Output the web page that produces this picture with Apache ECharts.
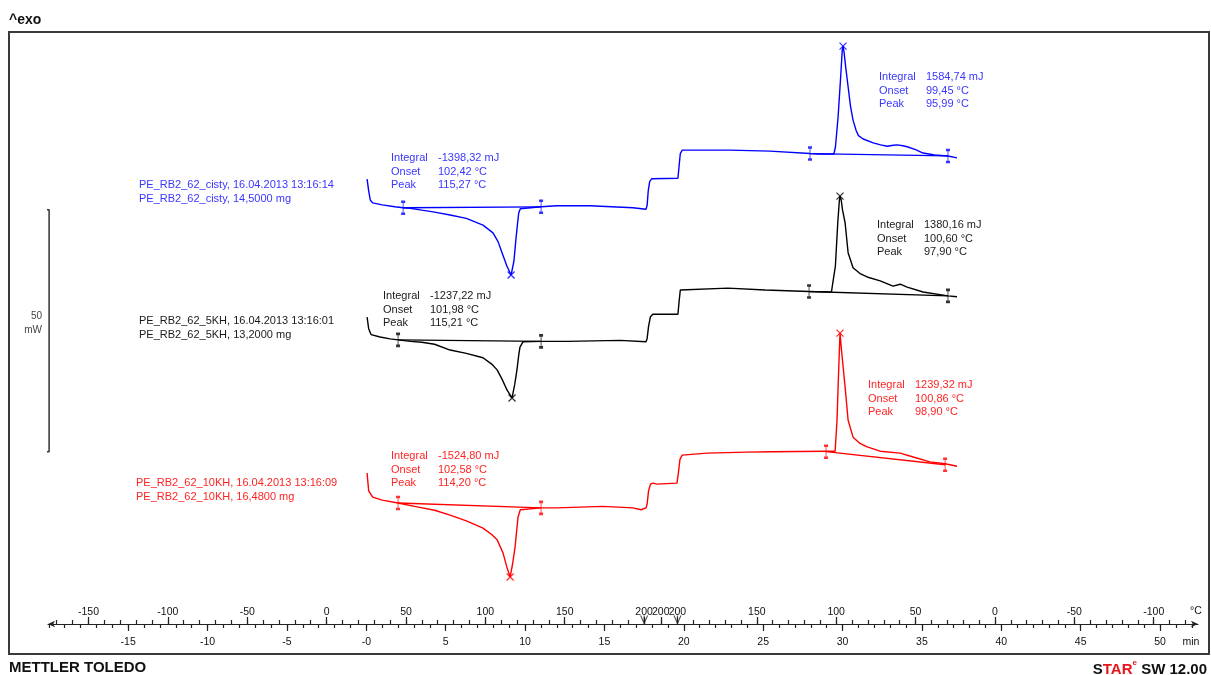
<!DOCTYPE html>
<html>
<head>
<meta charset="utf-8">
<title>DSC PE_RB2_62</title>
<script src="https://cdn.jsdelivr.net/npm/echarts@6/dist/echarts.min.js"></script>
<style>
  html, body { margin: 0; padding: 0; background: #fff; }
  #chart { width: 1211px; height: 675px; }
</style>
</head>
<body>
<div id="chart"></div>
<script>
// ---- Time axis (min) ----
const timeTickLabels = ['-15', '-10', '-5', '-0', '5', '10', '15', '20', '25', '30', '35', '40', '45', '50'];

// ---- Temperature program: heat 25 -> 200 °C at 10 K/min, hold, cool at 10 K/min ----
const startTemp = 25;
const rateKPerMin = 10;
const holdTemp = 200;
const holdStart = 17.5;
const holdEnd = 19.6;
const heatingTempLabels = [-150, -100, -50, 0, 50, 100, 150, 200];
const holdTempLabels = [200];
const coolingTempLabels = [200, 150, 100, 50, 0, -50, -100];

// ---- Heat flow traces [time min, heat flow mW, stacked display] ----
const blueTrace = [
  [0.05, 91.9], [0.15, 89.5], [0.25, 87.6], [0.40, 87.0], [1.0, 86.6], [1.8, 86.2], [2.32, 86.0],
  [2.76, 85.9], [3.5, 85.5], [4.3, 85.1], [5.28, 84.5], [6.3, 83.8], [7.35, 82.4], [7.98, 80.8],
  [8.3, 79.0], [8.55, 76.7], [8.85, 74.0], [9.12, 72.1], [9.3, 75.0], [9.42, 79.3], [9.52, 82.5],
  [9.60, 84.9], [9.70, 85.8], [9.81, 86.1], [11.01, 86.2], [12.0, 86.4], [14.09, 86.4], [14.15, 86.0],
  [16.8, 86.0], [16.85, 85.7], [17.62, 85.7], [17.69, 86.5], [17.76, 89.5], [17.85, 91.4], [17.98, 92.0],
  [19.63, 92.1], [19.70, 94.5], [19.78, 97.2], [19.9, 97.9], [22.9, 97.9], [22.95, 97.7], [25.43, 97.7],
  [25.5, 97.4], [27.95, 97.2], [28.5, 97.1], [29.45, 97.1], [29.55, 98.5], [29.72, 104.8], [29.88, 113.0],
  [29.98, 118.5], [30.03, 119.4], [30.1, 118.0], [30.2, 115.0], [30.35, 111.0], [30.5, 107.0], [30.66, 104.1],
  [30.85, 102.0], [31.0, 100.9], [31.3, 100.2], [31.93, 99.4], [32.4, 99.0], [32.81, 98.7], [33.2, 98.9],
  [33.44, 99.0], [33.8, 98.8], [34.07, 98.6], [34.6, 98.0], [35.07, 97.3], [35.8, 96.9], [36.64, 96.7],
  [37.21, 96.3]
];
const blackTrace = [
  [0.05, 63.4], [0.15, 61.0], [0.3, 59.8], [0.87, 59.3], [1.5, 58.9], [2.0, 58.7], [2.76, 58.4],
  [3.5, 58.2], [4.3, 57.8], [5.28, 56.6], [6.3, 55.9], [7.35, 55.0], [7.9, 53.7], [8.24, 52.5],
  [8.55, 50.6], [8.87, 48.3], [9.18, 46.7], [9.35, 49.5], [9.49, 52.5], [9.60, 55.5], [9.68, 57.2],
  [9.87, 58.3], [11.01, 58.4], [12.65, 58.4], [12.7, 58.6], [15.98, 58.6], [16.05, 58.3], [17.62, 58.3],
  [17.69, 59.0], [17.78, 61.5], [17.9, 63.5], [18.05, 64.0], [19.63, 64.0], [19.70, 66.5], [19.78, 69.0],
  [19.9, 69.4], [22.78, 69.4], [22.85, 69.1], [25.12, 69.0], [25.2, 68.8], [27.89, 68.7], [29.30, 68.6],
  [29.40, 68.7], [29.55, 74.0], [29.70, 83.0], [29.80, 87.5], [29.84, 88.4], [29.92, 87.5], [30.0, 85.5],
  [30.16, 82.9], [30.35, 76.7], [30.66, 73.6], [31.1, 72.4], [31.55, 71.7], [32.37, 70.9], [33.18, 69.8],
  [33.63, 70.2], [34.07, 69.6], [35.07, 68.6], [36.64, 67.8], [37.21, 67.6]
];
const redTrace = [
  [0.05, 31.2], [0.15, 27.5], [0.4, 26.2], [1.0, 25.6], [2.0, 25.0], [3.20, 24.2], [4.3, 23.5],
  [5.28, 22.5], [6.3, 21.3], [7.35, 19.8], [7.9, 18.5], [8.24, 17.4], [8.61, 14.7], [8.85, 11.8],
  [9.06, 9.7], [9.22, 12.5], [9.37, 15.9], [9.48, 19.5], [9.56, 22.1], [9.70, 23.6], [9.81, 24.0],
  [11.01, 24.0], [12.02, 24.0], [12.1, 24.3], [14.91, 24.3], [15.0, 24.0], [16.8, 24.0], [16.85, 23.6],
  [17.3, 23.6], [17.35, 24.0], [17.62, 24.0], [17.69, 24.8], [17.78, 27.5], [17.9, 28.9], [18.06, 29.1],
  [18.3, 28.9], [19.57, 29.1], [19.65, 31.0], [19.76, 34.0], [19.9, 34.9], [21.46, 35.3], [23.98, 35.5],
  [25.5, 35.6], [28.96, 35.7], [29.53, 35.7], [29.65, 42.0], [29.75, 52.0], [29.84, 60.1], [29.95, 56.0],
  [30.16, 49.0], [30.35, 42.1], [30.66, 38.6], [31.1, 37.3], [31.55, 36.6], [32.37, 35.7], [33.63, 35.3],
  [34.45, 34.5], [35.51, 33.5], [36.46, 33.1], [37.21, 32.6]
];

// Integration limits [time, mW] (left, right) for the melting and crystallization peaks
const blueLimits = [[2.32, 86.0], [11.01, 86.2], [27.95, 97.2], [36.64, 96.7]];
const blackLimits = [[2.0, 58.7], [11.01, 58.4], [27.89, 68.7], [36.64, 67.8]];
const redLimits = [[2.0, 25.0], [11.01, 24.0], [28.96, 35.6], [36.46, 32.9]];

// Peak positions [time, mW]
const bluePeaks = [[9.12, 72.1], [30.03, 119.4]];
const blackPeaks = [[9.18, 46.7], [29.84, 88.4]];
const redPeaks = [[9.06, 9.7], [29.84, 60.1]];

// Scale bar height (mW)
const scaleBarMW = 50;
const scaleBarBottom = 35.6;

// Curve names and evaluation results
const blueInfo = ['PE_RB2_62_cisty, 16.04.2013 13:16:14', 'PE_RB2_62_cisty, 14,5000 mg'];
const blackInfo = ['PE_RB2_62_5KH, 16.04.2013 13:16:01', 'PE_RB2_62_5KH, 13,2000 mg'];
const redInfo = ['PE_RB2_62_10KH, 16.04.2013 13:16:09', 'PE_RB2_62_10KH, 16,4800 mg'];
const resultNames = ['Integral', 'Onset', 'Peak'];
const blueMelt = ['-1398,32 mJ', '102,42 °C', '115,27 °C'];
const blueCryst = ['1584,74 mJ', '99,45 °C', '95,99 °C'];
const blackMelt = ['-1237,22 mJ', '101,98 °C', '115,21 °C'];
const blackCryst = ['1380,16 mJ', '100,60 °C', '97,90 °C'];
const redMelt = ['-1524,80 mJ', '102,58 °C', '114,20 °C'];
const redCryst = ['1239,32 mJ', '100,86 °C', '98,90 °C'];

// ---------------------------------------------------------------
const BLUE = '#0000ff', BLACK = '#000000', RED = '#ff0000';
const BLUE_TXT = '#3a36ff', BLACK_TXT = '#1a1a1a', RED_TXT = '#ff2424';
const FONT = '"Liberation Sans", Arial, sans-serif';

const xMin = -20.05, xMax = 52.39;
const yMin = 0, yMax = 122.31;

// time of a temperature on the heating ramp / cooling ramp
const heatTime = T => (T - startTemp) / rateKPerMin;
const coolTime = T => holdEnd + (holdTemp - T) / rateKPerMin;

const timeLabelVals = timeTickLabels.map(s => parseFloat(s));
const timeLabelMap = {};
timeTickLabels.forEach((s, i) => { timeLabelMap[timeLabelVals[i].toFixed(3)] = s; });
const timeMinorTicks = [];
for (let t = Math.ceil(xMin); t <= xMax; t++) timeMinorTicks.push(t);

const tempLabelPos = [];
const tempLabelMap = {};
function addTempLabel(t, T) { tempLabelPos.push(t); tempLabelMap[t.toFixed(3)] = String(T); }
heatingTempLabels.forEach(T => addTempLabel(heatTime(T), T));
holdTempLabels.forEach(T => addTempLabel((holdStart + holdEnd) / 2, T));
coolingTempLabels.forEach(T => addTempLabel(coolTime(T), T));

const tempMinorTicks = [];
for (let T = -170; T <= holdTemp; T += 10) { const t = heatTime(T); if (t >= xMin) tempMinorTicks.push(t); }
tempMinorTicks.push((holdStart + holdEnd) / 2);
for (let T = holdTemp; T >= -200; T -= 10) { const t = coolTime(T); if (t <= xMax) tempMinorTicks.push(t); }

const axisColor = '#222';
const baseAxis = { type: 'value', min: xMin, max: xMax, position: 'bottom', splitLine: { show: false } };

function traceSeries(data, color) {
  return { type: 'line', data, showSymbol: false, symbol: 'none', smooth: false,
    lineStyle: { color, width: 1.4 }, itemStyle: { color }, silent: true, z: 3 };
}
function baselineSeries(limits, color) {
  return [
    { type: 'line', data: [limits[0], limits[1]], showSymbol: false, lineStyle: { color, width: 1.3 }, silent: true, z: 2 },
    { type: 'line', data: [limits[2], limits[3]], showSymbol: false, lineStyle: { color, width: 1.3 }, silent: true, z: 2 }
  ];
}
const LIMIT_SYMBOL = 'path://M2,0 L2,14 M0,0 L4,0 M0,14 L4,14';
const PEAK_SYMBOL = 'path://M0,0 L8,8 M8,0 L0,8';
function markerSeries(limits, peaks, color) {
  return [
    { type: 'scatter', data: limits, symbol: LIMIT_SYMBOL, symbolSize: [4, 12],
      itemStyle: { color: 'rgba(0,0,0,0)', borderColor: color, borderWidth: 1.5 }, silent: true, z: 4 },
    { type: 'scatter', data: peaks, symbol: PEAK_SYMBOL, symbolSize: 7,
      itemStyle: { color: 'rgba(0,0,0,0)', borderColor: color, borderWidth: 1.3 }, silent: true, z: 4 }
  ];
}

const series = [
  traceSeries(blueTrace, BLUE), traceSeries(blackTrace, BLACK), traceSeries(redTrace, RED),
  ...baselineSeries(blueLimits, BLUE), ...baselineSeries(blackLimits, BLACK), ...baselineSeries(redLimits, RED),
  ...markerSeries(blueLimits, bluePeaks, BLUE), ...markerSeries(blackLimits, blackPeaks, BLACK),
  ...markerSeries(redLimits, redPeaks, RED),
  // 50 mW scale bar at the left edge
  { type: 'line', clip: false, showSymbol: false, silent: true,
    data: [[-20.36, scaleBarBottom], [-19.98, scaleBarBottom], [-19.98, scaleBarBottom + scaleBarMW], [-20.36, scaleBarBottom + scaleBarMW]],
    lineStyle: { color: '#333', width: 1.5 } },
  // segment boundaries of the temperature program
  { type: 'scatter', clip: false, silent: true, data: [[holdStart, yMin], [holdEnd, yMin]],
    symbol: 'path://M0,0 L4,7 L8,0 M4,0 L4,8', symbolSize: [7, 9], symbolOffset: [0, -4],
    itemStyle: { color: 'rgba(0,0,0,0)', borderColor: '#222', borderWidth: 1.2 }, z: 5 }
];

// ---- text blocks ----
const graphics = [];
function txt(x, y, text, color, extra) {
  graphics.push(Object.assign({ type: 'text', x, y, silent: true,
    style: Object.assign({ text, fill: color, font: '11px ' + FONT, textVerticalAlign: 'middle' }, extra || {}) }));
}
function infoBlock(x, y, lines, color) { lines.forEach((s, i) => txt(x, y + i * 14, s, color)); }
function resultBlock(x, y, values, color) {
  resultNames.forEach((n, i) => { txt(x, y + i * 13.5, n, color); txt(x + 47, y + i * 13.5, values[i], color); });
}
infoBlock(139, 185, blueInfo, BLUE_TXT);
infoBlock(139, 321, blackInfo, BLACK_TXT);
infoBlock(136, 483, redInfo, RED_TXT);
resultBlock(391, 158, blueMelt, BLUE_TXT);
resultBlock(879, 77, blueCryst, BLUE_TXT);
resultBlock(383, 296, blackMelt, BLACK_TXT);
resultBlock(877, 225, blackCryst, BLACK_TXT);
resultBlock(391, 456, redMelt, RED_TXT);
resultBlock(868, 385, redCryst, RED_TXT);

txt(42, 316, '50', '#444', { textAlign: 'right', font: '10px ' + FONT });
txt(42, 330, 'mW', '#444', { textAlign: 'right', font: '10px ' + FONT });
txt(1196, 611, '°C', '#111', { textAlign: 'center', font: '10.5px ' + FONT });
txt(1191, 642, 'min', '#111', { textAlign: 'center', font: '10.5px ' + FONT });
txt(9, 20, '^exo', '#111', { font: 'bold 14px ' + FONT });
txt(9, 668, 'METTLER TOLEDO', '#111', { font: 'bold 15px ' + FONT });
graphics.push({ type: 'text', right: 4, top: 659, silent: true,
  style: { text: '{k|S}{r|TAR}{s|e}{k| SW 12.00}', fill: '#111',
    rich: {
      k: { font: 'bold 15px ' + FONT, fill: '#111', lineHeight: 18, verticalAlign: 'bottom' },
      r: { font: 'bold 15px ' + FONT, fill: '#e8151b', lineHeight: 18, verticalAlign: 'bottom' },
      s: { font: 'bold 8px ' + FONT, fill: '#e8151b', lineHeight: 18, verticalAlign: 'top' }
    } } });
// outer frame
graphics.push({ type: 'rect', shape: { x: 9, y: 32, width: 1200, height: 622 }, silent: true, z: -1,
  style: { fill: 'none', stroke: '#3a3a3a', lineWidth: 2 } });

const chart = echarts.init(document.getElementById('chart'), null, { renderer: 'canvas' });
chart.setOption({
  animation: false,
  backgroundColor: '#fff',
  grid: { left: 48, right: 13, top: 32, bottom: 51, containLabel: false, outerBoundsMode: 'none' },
  xAxis: [
    Object.assign({}, baseAxis, {
      axisLine: { show: true, onZero: false, symbol: ['arrow', 'arrow'], symbolSize: [5, 7], lineStyle: { color: axisColor, width: 1.2 } },
      axisTick: { show: true, inside: false, length: 4, customValues: timeMinorTicks, lineStyle: { color: axisColor, width: 1.2 } },
      axisLabel: { show: true, customValues: timeLabelVals, margin: 13, color: '#111', fontFamily: 'Liberation Sans', fontSize: 10.5,
        formatter: v => timeLabelMap[Number(v).toFixed(3)] }
    }),
    Object.assign({}, baseAxis, {
      axisLine: { show: false },
      axisTick: { show: true, inside: false, length: 7, customValues: timeLabelVals, lineStyle: { color: axisColor, width: 1.2 } },
      axisLabel: { show: false }
    }),
    Object.assign({}, baseAxis, {
      axisLine: { show: false },
      axisTick: { show: true, inside: true, length: 4, customValues: tempMinorTicks, lineStyle: { color: axisColor, width: 1.2 } },
      axisLabel: { show: true, inside: true, customValues: tempLabelPos, margin: 6, color: '#111', fontFamily: 'Liberation Sans', fontSize: 10.5,
        hideOverlap: false, formatter: v => tempLabelMap[Number(v).toFixed(3)] }
    }),
    Object.assign({}, baseAxis, {
      axisLine: { show: false },
      axisTick: { show: true, inside: true, length: 7, customValues: tempLabelPos, lineStyle: { color: axisColor, width: 1.2 } },
      axisLabel: { show: false }
    })
  ],
  yAxis: { type: 'value', min: yMin, max: yMax, show: false },
  series,
  graphic: graphics
});
</script>
</body>
</html>
